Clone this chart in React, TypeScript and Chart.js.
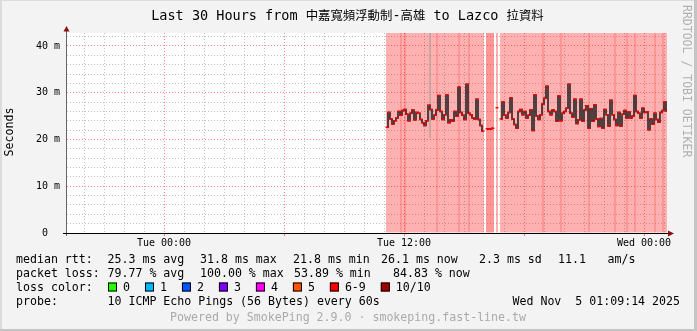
import { useEffect, useRef } from 'react';
import { Chart, registerables } from 'chart.js';

Chart.register(...registerables);

const CANVAS_W = 697;
const CANVAS_H = 331;

// ---- time axis (minutes relative to Tue 00:00) ----
const rangeStartMin = -291; // Mon 19:09
const rangeEndMin = 1509; // Wed 01:09
const firstSampleMin = 669; // Tue 11:09
const sampleStepMin = 6;

// ---- median RTT in ms (null = unknown) ----
const medianRttMs: (number | null)[] = [
  22.6, 25.8, 24.4, 23.3, 24.0, 24.6, 26.0, 25.2, 26.2, 26.4,
  25.4, 24.0, 25.6, 26.3, 24.2, 25.8, 25.6, 24.3, 23.6, 23.0,
  24.0, 27.3, 26.4, 24.4, 25.2, 26.3, 29.4, 26.0, 24.3, 25.3,
  29.5, 23.6, 24.2, 23.9, 26.0, 25.0, 31.2, 25.8, 25.2, 24.3,
  31.8, 25.6, 25.3, 24.6, 24.4, 28.6, 24.3, 23.0, 21.8, null,
  22.3, 22.2, 22.3, 22.4, null, 26.8, null, 24.4, 28.0, 25.2,
  24.6, 25.8, 28.9, 24.4, 23.2, 22.4, 26.0, 26.4, 25.3, 26.0,
  24.6, 25.2, 26.3, 21.9, 29.5, 25.0, 24.3, 25.3, 27.6, 28.8,
  31.4, 26.0, 25.3, 26.3, 26.0, 23.9, 29.3, 24.0, 25.6, 26.0,
  26.7, 31.8, 25.6, 24.8, 28.6, 23.4, 24.2, 28.6, 23.9, 26.3,
  27.2, 22.4, 26.6, 23.9, 27.4, 24.4, 22.8, 24.5, 22.4, 26.4,
  25.3, 22.9, 28.4, 25.3, 24.3, 23.0, 25.8, 22.9, 25.4, 26.2,
  24.6, 25.9, 24.6, 25.0, 29.4, 26.0, 25.6, 24.6, 26.7, 25.8,
  25.9, 22.1, 24.4, 23.3, 25.6, 24.3, 23.7, 25.8, 26.2, 28.0,
  26.1,
];

// samples where the loss shading is darker
const darkLossMinutes = [
  711, 723, 819, 885, 915, 969, 975, 981, 987,
  1137, 1191, 1275, 1353, 1389, 1413, 1473, 1497,
];

// one sample whose smoke reaches past the top of the graph
const outlierMinute = 798;
const outlierLowMs = 20.3;

const yTopMs = 42.78;
const yLabelValues = [0, 10, 20, 30, 40];
const yLabelTexts = ['0  ', '10 m', '20 m', '30 m', '40 m'];
const xLabelMinutes = [0, 720, 1440];
const xLabelTexts = ['Tue 00:00', 'Tue 12:00', 'Wed 00:00'];

const titleText = 'Last 30 Hours from 中嘉寬頻浮動制-高雄 to Lazco 拉資料';
const rttLabel = 'median rtt:';
const rttStats = ['25.3 ms avg', '31.8 ms max', '21.8 ms min', '26.1 ms now', '2.3 ms sd', '11.1', 'am/s'];
const lossLabel = 'packet loss:';
const lossStats = ['79.77 % avg', '100.00 % max', '53.89 % min', '84.83 % now'];
const lossColorLabel = 'loss color:';
const lossColorLabels = ['0', '1', '2', '3', '4', '5', '6-9', '10/10'];
const lossColorValues = ['#26ff00', '#00b8ff', '#0059ff', '#7e00ff', '#ff00ff', '#ff5500', '#ff0000', '#a10000'];
const probeLabel = 'probe:';
const probeText = '10 ICMP Echo Pings (56 Bytes) every 60s';
const dateText = 'Wed Nov  5 01:09:14 2025';
const poweredText = 'Powered by SmokePing 2.9.0 · smokeping.fast-line.tw';
const watermarkText = 'RRDTOOL / TOBI OETIKER';

// ---- layout (not data) ----
const MONO = '"DejaVu Sans Mono", "Noto Sans CJK TC", monospace';
const CJK = '"Noto Sans CJK TC", "Noto Sans CJK SC", sans-serif';
const rttStatX = [107.5, 200, 293, 381, 479, 558, 607.6];
const lossStatX = [107.5, 200, 294, 393];

const hourTicks: number[] = [];
for (let m = -240; m <= 1500; m += 60) hourTicks.push(m);
const yGridTicks: number[] = [];
for (let v = 0; v <= 42; v += 2) yGridTicks.push(v);

const sampleMinutes = medianRttMs.map((_, i) => firstSampleMin + i * sampleStepMin);
const lossBars = sampleMinutes
  .map((m, i) => (medianRttMs[i] === null ? null : { x: m, y: [0, yTopMs] }))
  .filter((b) => b !== null) as { x: number; y: number[] }[];
const lossBarColors = lossBars.map((b) =>
  darkLossMinutes.includes(b.x) ? 'rgba(255,0,0,0.41)' : 'rgba(255,0,0,0.31)'
);
const medianPoints = sampleMinutes.map((m, i) => ({ x: m, y: medianRttMs[i] }));

const decorPlugin = {
  id: 'decor',
  beforeDraw(chart: any) {
    const { ctx, chartArea: a } = chart;
    ctx.save();
    ctx.fillStyle = '#f3f3f3';
    ctx.fillRect(0, 0, CANVAS_W, CANVAS_H);
    ctx.fillStyle = '#dcdcdc';
    ctx.fillRect(0, 0, CANVAS_W, 1);
    ctx.fillRect(0, 0, 2, CANVAS_H);
    ctx.fillStyle = '#c4c4c4';
    ctx.fillRect(CANVAS_W - 3, 0, 3, CANVAS_H);
    ctx.fillRect(0, CANVAS_H - 2, CANVAS_W, 2);
    ctx.fillStyle = '#ffffff';
    ctx.fillRect(a.left, a.top, a.right - a.left, a.bottom - a.top);
    ctx.restore();
  },
  afterDraw(chart: any) {
    const { ctx, chartArea: a } = chart;
    ctx.save();
    // axes
    ctx.fillStyle = '#666666';
    ctx.fillRect(a.left - 1, 31, 1, 236 - 31);
    ctx.fillStyle = '#000000';
    ctx.fillRect(63, a.bottom, 668 - 63, 1);
    // arrows
    ctx.fillStyle = '#8b0f0f';
    ctx.beginPath();
    ctx.moveTo(a.left - 0.5, 26);
    ctx.lineTo(a.left - 3.5, 31.5);
    ctx.lineTo(a.left + 2.5, 31.5);
    ctx.closePath();
    ctx.fill();
    ctx.beginPath();
    ctx.moveTo(674, a.bottom + 0.5);
    ctx.lineTo(668, a.bottom - 2.5);
    ctx.lineTo(668, a.bottom + 3.5);
    ctx.closePath();
    ctx.fill();

    // title, latin and CJK runs
    const runs: { t: string; cjk: boolean }[] = [];
    for (const ch of titleText) {
      const c = /[\u3000-\u9fff\uff00-\uffef]/.test(ch);
      if (runs.length && runs[runs.length - 1].cjk === c) runs[runs.length - 1].t += ch;
      else runs.push({ t: ch, cjk: c });
    }
    const fontFor = (c: boolean) => (c ? `12.4px ${CJK}` : `13.5px ${MONO}`);
    let total = 0;
    for (const r of runs) {
      ctx.font = fontFor(r.cjk);
      total += ctx.measureText(r.t).width;
    }
    let tx = 347.5 - total / 2;
    ctx.fillStyle = '#000';
    ctx.textBaseline = 'alphabetic';
    ctx.textAlign = 'left';
    for (const r of runs) {
      ctx.font = fontFor(r.cjk);
      ctx.fillText(r.t, tx, 19.5);
      tx += ctx.measureText(r.t).width;
    }

    // y axis title
    ctx.font = `11.6px ${MONO}`;
    ctx.save();
    ctx.translate(10, 132);
    ctx.rotate(-Math.PI / 2);
    ctx.textAlign = 'center';
    ctx.textBaseline = 'middle';
    ctx.fillText('Seconds', 0, 0);
    ctx.restore();

    // watermark
    ctx.save();
    ctx.fillStyle = '#b0b0b0';
    ctx.font = `11.5px ${MONO}`;
    ctx.translate(686, 5);
    ctx.rotate(Math.PI / 2);
    ctx.textAlign = 'left';
    ctx.textBaseline = 'middle';
    ctx.fillText(watermarkText, 0, 0);
    ctx.restore();

    // legend
    ctx.font = `11.6px ${MONO}`;
    ctx.textBaseline = 'middle';
    ctx.textAlign = 'left';
    ctx.fillStyle = '#000';
    ctx.fillText(rttLabel, 16, 259.5);
    rttStats.forEach((s, i) => ctx.fillText(s, rttStatX[i], 259.5));
    ctx.fillText(lossLabel, 16, 273.5);
    lossStats.forEach((s, i) => ctx.fillText(s, lossStatX[i], 273.5));
    ctx.fillText(lossColorLabel, 16, 287.5);
    let bx = 108;
    lossColorLabels.forEach((lab, i) => {
      ctx.fillStyle = lossColorValues[i];
      ctx.fillRect(bx, 282.5, 9, 9);
      ctx.strokeStyle = '#000';
      ctx.lineWidth = 1;
      ctx.strokeRect(bx + 0.5, 283, 8, 8);
      ctx.fillStyle = '#000';
      const lx = bx + 15;
      ctx.fillText(lab, lx, 287.5);
      bx = lx + ctx.measureText(lab).width + 15;
    });
    ctx.fillText(probeLabel, 16, 301.5);
    ctx.fillText(probeText, 107.5, 301.5);
    ctx.textAlign = 'right';
    ctx.fillText(dateText, 680, 301.5);
    ctx.textAlign = 'center';
    ctx.fillStyle = '#aaaaaa';
    ctx.fillText(poweredText, 348, 318);
    ctx.restore();
  },
};

export default function App() {
  const ref = useRef<HTMLCanvasElement>(null);
  useEffect(() => {
    const canvas = ref.current;
    if (!canvas) return;
    const chart = new Chart(canvas, {
      type: 'line',
      data: {
        datasets: [
          {
            type: 'bar',
            data: lossBars as any,
            backgroundColor: lossBarColors,
            borderWidth: 0,
            inflateAmount: 0,
            barPercentage: 1,
            categoryPercentage: 1,
            grouped: false,
            order: 4,
          } as any,
          {
            type: 'line',
            data: [
              { x: outlierMinute, y: outlierLowMs },
              { x: outlierMinute, y: yTopMs },
            ],
            borderColor: '#999999',
            borderWidth: 1,
            pointRadius: 0,
            order: 3,
          },
          {
            type: 'line',
            data: medianPoints as any,
            stepped: 'middle',
            borderColor: '#1a1a1a',
            borderWidth: 1.5,
            pointRadius: 0,
            spanGaps: false,
            order: 2,
          },
          {
            type: 'line',
            data: medianPoints as any,
            showLine: false,
            pointStyle: 'line',
            pointRadius: 1.5,
            pointBorderColor: '#ff0000',
            pointBorderWidth: 1.5,
            order: 1,
          },
        ],
      },
      options: {
        responsive: false,
        animation: false,
        devicePixelRatio: 1,
        events: [],
        layout: { padding: { top: 33, right: 30, left: 0, bottom: 0 } },
        plugins: { legend: { display: false }, tooltip: { enabled: false }, title: { display: false } },
        scales: {
          x: {
            type: 'linear',
            min: rangeStartMin,
            max: rangeEndMin,
            offset: false,
            afterBuildTicks: (s: any) => {
              s.ticks = hourTicks.map((v) => ({ value: v }));
            },
            afterFit: (s: any) => {
              s.height = CANVAS_H - 233;
            },
            grid: {
              offset: false,
              lineWidth: 1,
              color: (c: any) => {
                const v = c.tick ? c.tick.value : NaN;
                if (isNaN(v)) return 'rgba(0,0,0,0)';
                return v % 360 === 0 ? 'rgba(255,0,0,0.45)' : 'rgba(140,140,140,0.55)';
              },
              drawTicks: true,
              tickLength: 3,
              tickColor: (c: any) => {
                const v = c.tick ? c.tick.value : NaN;
                return v % 360 === 0 ? 'rgba(255,0,0,0.55)' : 'rgba(0,0,0,0)';
              },
            },
            border: { display: false, dash: [1, 2] },
            ticks: {
              autoSkip: false,
              maxRotation: 0,
              minRotation: 0,
              padding: 1,
              color: '#000',
              font: { family: MONO, size: 10 },
              callback: (v: any) => {
                const k = xLabelMinutes.indexOf(Number(v));
                return k >= 0 ? xLabelTexts[k] : '';
              },
            },
          },
          y: {
            type: 'linear',
            min: 0,
            max: yTopMs,
            afterBuildTicks: (s: any) => {
              s.ticks = yGridTicks.map((v) => ({ value: v }));
            },
            afterFit: (s: any) => {
              s.width = 67;
            },
            grid: {
              lineWidth: 1,
              drawTicks: false,
              color: (c: any) => {
                const v = c.tick ? c.tick.value : NaN;
                if (isNaN(v) || v === 0) return 'rgba(0,0,0,0)';
                return v % 10 === 0 ? 'rgba(255,0,0,0.45)' : 'rgba(140,140,140,0.55)';
              },
            },
            border: { display: false, dash: [1, 2] },
            ticks: {
              autoSkip: false,
              padding: 7,
              color: '#000',
              font: { family: MONO, size: 10 },
              callback: (v: any) => {
                const k = yLabelValues.indexOf(Number(v));
                return k >= 0 ? yLabelTexts[k] : '';
              },
            },
          },
        },
      },
      plugins: [decorPlugin],
    } as any);
    return () => chart.destroy();
  }, []);
  return (
    <div style={{ position: 'fixed', left: 0, top: 0, width: CANVAS_W, height: CANVAS_H }}>
      <canvas ref={ref} width={CANVAS_W} height={CANVAS_H} style={{ display: 'block', width: CANVAS_W, height: CANVAS_H }} />
    </div>
  );
}
